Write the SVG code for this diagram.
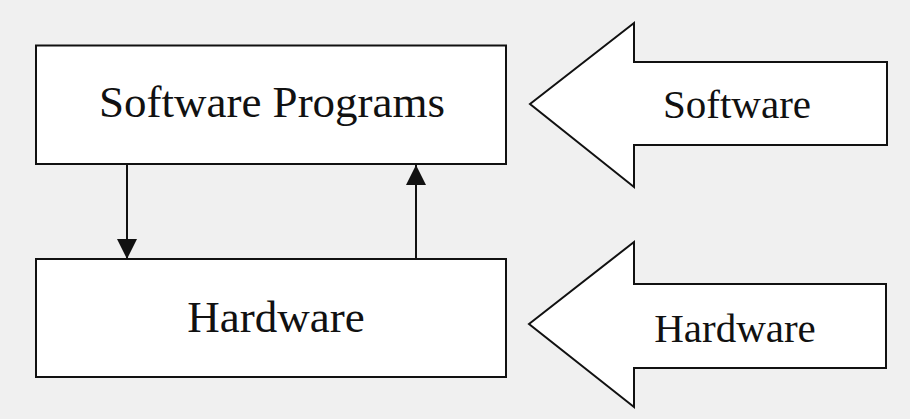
<svg xmlns="http://www.w3.org/2000/svg" width="910" height="419" viewBox="0 0 910 419">
<defs>
<style>
.box{fill:#fff;stroke:#111;stroke-width:2}
.big{fill:#fff;stroke:#111;stroke-width:2;stroke-linejoin:miter}
.t{font-family:"Liberation Serif","Times New Roman",serif;fill:#111;text-anchor:middle}
.line{stroke:#111;stroke-width:2;fill:none}
</style>
<marker id="ah" markerWidth="20" markerHeight="22" viewBox="0 0 20 22" refX="20" refY="10" orient="auto" markerUnits="userSpaceOnUse">
<path d="M0,0 L20,10 L0,20 Z" fill="#111"/>
</marker>
</defs>
<rect width="910" height="419" fill="#f0f0f0"/>
<g id="software-programs">
<rect class="box" x="36" y="45.5" width="470" height="118.5"/>
<text class="t" x="272" y="117" font-size="45">Software Programs</text>
</g>
<g id="hardware-box">
<rect class="box" x="36" y="259" width="470" height="118"/>
<text class="t" x="276" y="332" font-size="45">Hardware</text>
</g>
<g id="software-arrow">
<path class="big" d="M530,104 L634,23 L634,62 L887,62 L887,145 L634,145 L634,187 Z"/>
<text class="t" x="737" y="118" font-size="41">Software</text>
</g>
<g id="hardware-arrow">
<path class="big" d="M529,324 L634,242 L634,284 L886,284 L886,368 L634,368 L634,407 Z"/>
<text class="t" x="735" y="342" font-size="41">Hardware</text>
</g>
<g id="connectors">
<line class="line" x1="127" y1="164" x2="127" y2="259" marker-end="url(#ah)"/>
<line class="line" x1="416" y1="259" x2="416" y2="165" marker-end="url(#ah)"/>
</g>
</svg>
